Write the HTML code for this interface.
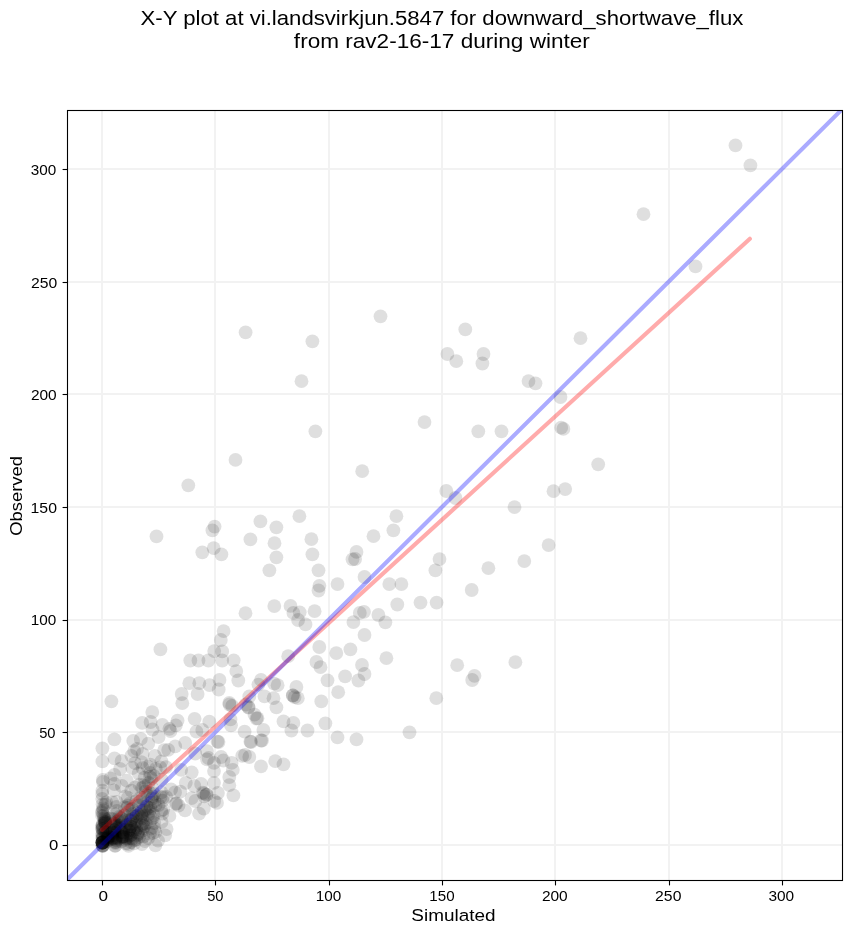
<!DOCTYPE html><html><head><meta charset="utf-8"><style>html,body{margin:0;padding:0;background:#fff;}svg{display:block;will-change:transform;}text{font-family:"Liberation Sans", sans-serif;fill:#000;}</style></head><body>
<svg width="851" height="934" viewBox="0 0 851 934">
<rect x="0" y="0" width="851" height="934" fill="#fff"/>
<text transform="translate(441.93,25.00) scale(1.1305,1)" font-size="19.60" text-anchor="middle">X-Y plot at vi.landsvirkjun.5847 for downward_shortwave_flux</text>
<text transform="translate(441.85,47.50) scale(1.1524,1)" font-size="19.60" text-anchor="middle">from rav2-16-17 during winter</text>
<text transform="translate(103.20,900.70) scale(1.2231,1)" font-size="14.00" text-anchor="middle">0</text>
<text transform="translate(215.35,900.70) scale(1.0497,1)" font-size="14.00" text-anchor="middle">50</text>
<text transform="translate(328.53,900.70) scale(1.0931,1)" font-size="14.00" text-anchor="middle">100</text>
<text transform="translate(441.95,900.70) scale(1.0817,1)" font-size="14.00" text-anchor="middle">150</text>
<text transform="translate(554.80,900.70) scale(1.1060,1)" font-size="14.00" text-anchor="middle">200</text>
<text transform="translate(668.25,900.70) scale(1.1258,1)" font-size="14.00" text-anchor="middle">250</text>
<text transform="translate(781.25,900.70) scale(1.1028,1)" font-size="14.00" text-anchor="middle">300</text>
<text transform="translate(53.65,849.80) scale(1.1924,1)" font-size="14.00" text-anchor="middle">0</text>
<text transform="translate(47.35,737.80) scale(1.0497,1)" font-size="14.00" text-anchor="middle">50</text>
<text transform="translate(43.52,624.80) scale(1.0931,1)" font-size="14.00" text-anchor="middle">100</text>
<text transform="translate(43.77,513.20) scale(1.1297,1)" font-size="14.00" text-anchor="middle">150</text>
<text transform="translate(43.80,399.80) scale(1.1060,1)" font-size="14.00" text-anchor="middle">200</text>
<text transform="translate(44.10,287.80) scale(1.1233,1)" font-size="14.00" text-anchor="middle">250</text>
<text transform="translate(43.40,174.80) scale(1.0909,1)" font-size="14.00" text-anchor="middle">300</text>
<text transform="translate(453.45,920.70) scale(1.1211,1)" font-size="16.90" text-anchor="middle">Simulated</text>
<text transform="translate(22.20,495.90) rotate(-90) scale(1.0903,1)" font-size="16.90" text-anchor="middle">Observed</text>
<defs><clipPath id="ax"><rect x="67.5" y="110.5" width="775" height="770"/></clipPath></defs>
<g stroke="#f2f2f2" stroke-width="2.00"><line x1="102" y1="110.5" x2="102" y2="880.5"/><line x1="67.5" y1="845" x2="842.5" y2="845"/><line x1="215" y1="110.5" x2="215" y2="880.5"/><line x1="67.5" y1="732" x2="842.5" y2="732"/><line x1="329" y1="110.5" x2="329" y2="880.5"/><line x1="67.5" y1="620" x2="842.5" y2="620"/><line x1="442" y1="110.5" x2="442" y2="880.5"/><line x1="67.5" y1="507" x2="842.5" y2="507"/><line x1="555" y1="110.5" x2="555" y2="880.5"/><line x1="67.5" y1="394" x2="842.5" y2="394"/><line x1="669" y1="110.5" x2="669" y2="880.5"/><line x1="67.5" y1="282" x2="842.5" y2="282"/><line x1="782" y1="110.5" x2="782" y2="880.5"/><line x1="67.5" y1="169" x2="842.5" y2="169"/></g>
<g clip-path="url(#ax)" fill="#000" fill-opacity="0.125">
<circle cx="735.5" cy="145.4" r="6.90"/><circle cx="750.4" cy="165.4" r="6.90"/><circle cx="643.5" cy="214.2" r="6.90"/><circle cx="695.5" cy="266.4" r="6.90"/><circle cx="380.5" cy="316.3" r="6.90"/><circle cx="312.4" cy="341.3" r="6.90"/><circle cx="301.5" cy="381.2" r="6.90"/><circle cx="315.4" cy="431.3" r="6.90"/><circle cx="424.5" cy="422.1" r="6.90"/><circle cx="362.2" cy="471.2" r="6.90"/><circle cx="447.4" cy="354.0" r="6.90"/><circle cx="456.3" cy="361.2" r="6.90"/><circle cx="446.3" cy="491.0" r="6.90"/><circle cx="455.5" cy="498.0" r="6.90"/><circle cx="465.3" cy="329.4" r="6.90"/><circle cx="483.5" cy="354.0" r="6.90"/><circle cx="482.4" cy="363.5" r="6.90"/><circle cx="528.5" cy="381.1" r="6.90"/><circle cx="535.5" cy="383.3" r="6.90"/><circle cx="580.5" cy="338.2" r="6.90"/><circle cx="560.5" cy="397.0" r="6.90"/><circle cx="478.3" cy="431.3" r="6.90"/><circle cx="501.5" cy="431.3" r="6.90"/><circle cx="561.2" cy="427.7" r="6.90"/><circle cx="563.4" cy="428.9" r="6.90"/><circle cx="598.2" cy="464.3" r="6.90"/><circle cx="553.5" cy="491.2" r="6.90"/><circle cx="565.2" cy="489.1" r="6.90"/><circle cx="245.6" cy="332.3" r="6.90"/><circle cx="235.5" cy="459.9" r="6.90"/><circle cx="188.3" cy="485.3" r="6.90"/><circle cx="514.5" cy="507.1" r="6.90"/><circle cx="548.6" cy="545.1" r="6.90"/><circle cx="524.3" cy="561.1" r="6.90"/><circle cx="488.4" cy="568.2" r="6.90"/><circle cx="471.7" cy="590.0" r="6.90"/><circle cx="515.4" cy="662.2" r="6.90"/><circle cx="474.5" cy="675.8" r="6.90"/><circle cx="472.2" cy="680.0" r="6.90"/><circle cx="299.4" cy="516.2" r="6.90"/><circle cx="276.4" cy="527.3" r="6.90"/><circle cx="274.5" cy="543.2" r="6.90"/><circle cx="276.4" cy="557.3" r="6.90"/><circle cx="269.4" cy="570.3" r="6.90"/><circle cx="311.4" cy="539.2" r="6.90"/><circle cx="312.4" cy="554.3" r="6.90"/><circle cx="318.5" cy="570.3" r="6.90"/><circle cx="319.4" cy="585.8" r="6.90"/><circle cx="318.5" cy="590.5" r="6.90"/><circle cx="356.5" cy="551.9" r="6.90"/><circle cx="352.5" cy="559.3" r="6.90"/><circle cx="355.1" cy="559.0" r="6.90"/><circle cx="337.5" cy="584.1" r="6.90"/><circle cx="364.5" cy="577.0" r="6.90"/><circle cx="396.4" cy="516.2" r="6.90"/><circle cx="393.4" cy="530.3" r="6.90"/><circle cx="373.5" cy="536.2" r="6.90"/><circle cx="439.5" cy="559.1" r="6.90"/><circle cx="435.4" cy="570.3" r="6.90"/><circle cx="389.3" cy="584.1" r="6.90"/><circle cx="401.4" cy="584.1" r="6.90"/><circle cx="274.3" cy="606.1" r="6.90"/><circle cx="290.5" cy="605.9" r="6.90"/><circle cx="293.4" cy="612.9" r="6.90"/><circle cx="299.7" cy="612.3" r="6.90"/><circle cx="298.1" cy="620.0" r="6.90"/><circle cx="305.5" cy="624.4" r="6.90"/><circle cx="314.6" cy="611.2" r="6.90"/><circle cx="353.4" cy="622.1" r="6.90"/><circle cx="359.8" cy="612.9" r="6.90"/><circle cx="364.0" cy="611.8" r="6.90"/><circle cx="364.5" cy="635.0" r="6.90"/><circle cx="319.3" cy="647.0" r="6.90"/><circle cx="336.3" cy="653.1" r="6.90"/><circle cx="350.4" cy="649.4" r="6.90"/><circle cx="288.2" cy="656.2" r="6.90"/><circle cx="316.4" cy="662.0" r="6.90"/><circle cx="320.5" cy="667.2" r="6.90"/><circle cx="362.0" cy="665.0" r="6.90"/><circle cx="364.5" cy="674.0" r="6.90"/><circle cx="345.1" cy="676.4" r="6.90"/><circle cx="358.4" cy="680.5" r="6.90"/><circle cx="327.5" cy="680.3" r="6.90"/><circle cx="296.4" cy="687.0" r="6.90"/><circle cx="274.1" cy="683.7" r="6.90"/><circle cx="277.6" cy="685.2" r="6.90"/><circle cx="338.2" cy="692.2" r="6.90"/><circle cx="397.3" cy="604.5" r="6.90"/><circle cx="420.5" cy="602.6" r="6.90"/><circle cx="436.6" cy="602.6" r="6.90"/><circle cx="378.4" cy="615.0" r="6.90"/><circle cx="385.4" cy="622.3" r="6.90"/><circle cx="386.4" cy="658.2" r="6.90"/><circle cx="457.2" cy="665.2" r="6.90"/><circle cx="436.3" cy="698.2" r="6.90"/><circle cx="409.5" cy="732.3" r="6.90"/><circle cx="292.9" cy="695.3" r="6.90"/><circle cx="294.6" cy="697.1" r="6.90"/><circle cx="297.8" cy="698.2" r="6.90"/><circle cx="273.5" cy="698.2" r="6.90"/><circle cx="276.4" cy="707.4" r="6.90"/><circle cx="321.3" cy="701.4" r="6.90"/><circle cx="283.5" cy="721.4" r="6.90"/><circle cx="293.4" cy="722.9" r="6.90"/><circle cx="291.4" cy="730.5" r="6.90"/><circle cx="307.5" cy="730.5" r="6.90"/><circle cx="325.4" cy="723.3" r="6.90"/><circle cx="337.5" cy="737.4" r="6.90"/><circle cx="356.5" cy="739.4" r="6.90"/><circle cx="275.2" cy="761.1" r="6.90"/><circle cx="283.5" cy="764.3" r="6.90"/><circle cx="214.6" cy="526.6" r="6.90"/><circle cx="212.4" cy="530.4" r="6.90"/><circle cx="260.4" cy="521.4" r="6.90"/><circle cx="250.4" cy="539.4" r="6.90"/><circle cx="202.3" cy="552.3" r="6.90"/><circle cx="213.7" cy="548.2" r="6.90"/><circle cx="221.4" cy="554.4" r="6.90"/><circle cx="156.5" cy="536.4" r="6.90"/><circle cx="245.5" cy="613.2" r="6.90"/><circle cx="223.6" cy="631.1" r="6.90"/><circle cx="220.8" cy="640.0" r="6.90"/><circle cx="214.2" cy="651.1" r="6.90"/><circle cx="222.2" cy="651.4" r="6.90"/><circle cx="190.3" cy="660.5" r="6.90"/><circle cx="198.5" cy="660.5" r="6.90"/><circle cx="208.4" cy="660.5" r="6.90"/><circle cx="222.2" cy="660.5" r="6.90"/><circle cx="233.7" cy="660.3" r="6.90"/><circle cx="236.3" cy="671.1" r="6.90"/><circle cx="238.3" cy="680.5" r="6.90"/><circle cx="189.3" cy="683.2" r="6.90"/><circle cx="199.3" cy="683.2" r="6.90"/><circle cx="209.5" cy="685.2" r="6.90"/><circle cx="219.5" cy="679.9" r="6.90"/><circle cx="218.7" cy="689.5" r="6.90"/><circle cx="197.6" cy="694.0" r="6.90"/><circle cx="181.7" cy="694.0" r="6.90"/><circle cx="261.0" cy="679.9" r="6.90"/><circle cx="258.4" cy="684.6" r="6.90"/><circle cx="249.3" cy="696.4" r="6.90"/><circle cx="264.5" cy="696.4" r="6.90"/><circle cx="160.4" cy="649.4" r="6.90"/><circle cx="182.3" cy="703.2" r="6.90"/><circle cx="229.3" cy="702.9" r="6.90"/><circle cx="232.2" cy="705.9" r="6.90"/><circle cx="245.8" cy="704.5" r="6.90"/><circle cx="248.5" cy="707.5" r="6.90"/><circle cx="254.5" cy="714.7" r="6.90"/><circle cx="257.5" cy="718.2" r="6.90"/><circle cx="194.6" cy="718.8" r="6.90"/><circle cx="177.6" cy="720.6" r="6.90"/><circle cx="175.8" cy="725.3" r="6.90"/><circle cx="169.4" cy="728.8" r="6.90"/><circle cx="209.3" cy="721.7" r="6.90"/><circle cx="202.3" cy="730.0" r="6.90"/><circle cx="196.4" cy="731.7" r="6.90"/><circle cx="231.0" cy="725.3" r="6.90"/><circle cx="230.5" cy="719.4" r="6.90"/><circle cx="244.6" cy="731.7" r="6.90"/><circle cx="263.4" cy="730.0" r="6.90"/><circle cx="217.5" cy="741.7" r="6.90"/><circle cx="185.2" cy="742.9" r="6.90"/><circle cx="175.2" cy="746.4" r="6.90"/><circle cx="168.2" cy="749.9" r="6.90"/><circle cx="250.4" cy="741.7" r="6.90"/><circle cx="261.0" cy="740.5" r="6.90"/><circle cx="207.0" cy="751.1" r="6.90"/><circle cx="195.2" cy="753.5" r="6.90"/><circle cx="242.2" cy="755.8" r="6.90"/><circle cx="249.3" cy="757.0" r="6.90"/><circle cx="261.0" cy="766.4" r="6.90"/><circle cx="207.0" cy="759.3" r="6.90"/><circle cx="214.0" cy="762.9" r="6.90"/><circle cx="221.1" cy="757.0" r="6.90"/><circle cx="223.4" cy="760.5" r="6.90"/><circle cx="231.6" cy="762.9" r="6.90"/><circle cx="232.8" cy="769.9" r="6.90"/><circle cx="214.0" cy="771.1" r="6.90"/><circle cx="191.7" cy="772.3" r="6.90"/><circle cx="181.1" cy="769.9" r="6.90"/><circle cx="229.3" cy="777.0" r="6.90"/><circle cx="185.8" cy="782.8" r="6.90"/><circle cx="201.1" cy="784.0" r="6.90"/><circle cx="214.0" cy="782.8" r="6.90"/><circle cx="229.3" cy="785.2" r="6.90"/><circle cx="111.4" cy="701.3" r="6.90"/><circle cx="152.3" cy="712.1" r="6.90"/><circle cx="142.2" cy="722.9" r="6.90"/><circle cx="150.6" cy="722.0" r="6.90"/><circle cx="152.5" cy="729.5" r="6.90"/><circle cx="162.4" cy="725.0" r="6.90"/><circle cx="114.4" cy="739.3" r="6.90"/><circle cx="102.4" cy="748.3" r="6.90"/><circle cx="102.4" cy="761.4" r="6.90"/><circle cx="133.2" cy="740.8" r="6.90"/><circle cx="140.8" cy="738.9" r="6.90"/><circle cx="148.3" cy="743.6" r="6.90"/><circle cx="158.6" cy="737.0" r="6.90"/><circle cx="134.2" cy="751.1" r="6.90"/><circle cx="131.4" cy="755.8" r="6.90"/><circle cx="137.0" cy="749.0" r="6.90"/><circle cx="142.6" cy="753.9" r="6.90"/><circle cx="154.8" cy="755.8" r="6.90"/><circle cx="164.2" cy="750.2" r="6.90"/><circle cx="161.4" cy="761.4" r="6.90"/><circle cx="120.1" cy="769.0" r="6.90"/><circle cx="132.3" cy="768.0" r="6.90"/><circle cx="142.6" cy="768.0" r="6.90"/><circle cx="155.8" cy="769.0" r="6.90"/><circle cx="233.4" cy="795.4" r="6.90"/><circle cx="217.9" cy="793.0" r="6.90"/><circle cx="202.9" cy="792.6" r="6.90"/><circle cx="206.6" cy="794.4" r="6.90"/><circle cx="204.5" cy="796.3" r="6.90"/><circle cx="194.4" cy="786.0" r="6.90"/><circle cx="180.3" cy="791.6" r="6.90"/><circle cx="175.0" cy="792.5" r="6.90"/><circle cx="191.6" cy="798.2" r="6.90"/><circle cx="195.4" cy="801.0" r="6.90"/><circle cx="175.6" cy="803.8" r="6.90"/><circle cx="185.0" cy="810.4" r="6.90"/><circle cx="199.1" cy="813.7" r="6.90"/><circle cx="203.8" cy="808.5" r="6.90"/><circle cx="214.2" cy="801.0" r="6.90"/><circle cx="217.0" cy="802.9" r="6.90"/><circle cx="204.0" cy="793.5" r="6.90"/><circle cx="206.5" cy="795.0" r="6.90"/><circle cx="176.5" cy="803.5" r="6.90"/><circle cx="178.5" cy="805.5" r="6.90"/><circle cx="229.5" cy="704.5" r="6.90"/><circle cx="248.5" cy="707.0" r="6.90"/><circle cx="256.5" cy="718.5" r="6.90"/><circle cx="218.5" cy="742.0" r="6.90"/><circle cx="251.0" cy="742.0" r="6.90"/><circle cx="208.5" cy="758.0" r="6.90"/><circle cx="245.0" cy="755.0" r="6.90"/><circle cx="170.5" cy="731.0" r="6.90"/><circle cx="292.8" cy="695.5" r="6.90"/><circle cx="262.0" cy="740.5" r="6.90"/><circle cx="103.0" cy="782.0" r="6.90"/><circle cx="114.5" cy="784.0" r="6.90"/><circle cx="102.5" cy="842.5" r="6.90"/><circle cx="102.5" cy="842.5" r="6.90"/><circle cx="102.5" cy="842.5" r="6.90"/><circle cx="102.5" cy="842.5" r="6.90"/><circle cx="102.5" cy="842.5" r="6.90"/><circle cx="102.5" cy="842.5" r="6.90"/><circle cx="102.5" cy="842.5" r="6.90"/><circle cx="102.5" cy="842.5" r="6.90"/><circle cx="102.5" cy="842.5" r="6.90"/><circle cx="102.5" cy="842.5" r="6.90"/><circle cx="102.5" cy="842.5" r="6.90"/><circle cx="102.5" cy="842.5" r="6.90"/><circle cx="145.5" cy="786.0" r="6.90"/><circle cx="142.1" cy="787.9" r="6.90"/><circle cx="150.3" cy="793.4" r="6.90"/><circle cx="152.8" cy="796.4" r="6.90"/><circle cx="160.5" cy="797.0" r="6.90"/><circle cx="151.8" cy="798.5" r="6.90"/><circle cx="136.3" cy="800.8" r="6.90"/><circle cx="140.3" cy="801.5" r="6.90"/><circle cx="152.1" cy="802.4" r="6.90"/><circle cx="105.2" cy="804.3" r="6.90"/><circle cx="142.8" cy="804.3" r="6.90"/><circle cx="158.5" cy="805.0" r="6.90"/><circle cx="128.0" cy="805.7" r="6.90"/><circle cx="150.5" cy="806.3" r="6.90"/><circle cx="127.2" cy="808.0" r="6.90"/><circle cx="150.5" cy="808.1" r="6.90"/><circle cx="129.6" cy="809.8" r="6.90"/><circle cx="141.6" cy="810.9" r="6.90"/><circle cx="144.0" cy="810.5" r="6.90"/><circle cx="149.5" cy="811.1" r="6.90"/><circle cx="132.6" cy="813.9" r="6.90"/><circle cx="136.6" cy="813.3" r="6.90"/><circle cx="138.8" cy="814.5" r="6.90"/><circle cx="141.5" cy="814.8" r="6.90"/><circle cx="102.1" cy="815.8" r="6.90"/><circle cx="149.7" cy="815.8" r="6.90"/><circle cx="119.2" cy="816.8" r="6.90"/><circle cx="136.2" cy="816.1" r="6.90"/><circle cx="103.9" cy="817.9" r="6.90"/><circle cx="120.9" cy="817.5" r="6.90"/><circle cx="140.3" cy="817.0" r="6.90"/><circle cx="142.6" cy="817.7" r="6.90"/><circle cx="104.8" cy="818.3" r="6.90"/><circle cx="111.2" cy="818.6" r="6.90"/><circle cx="104.8" cy="820.0" r="6.90"/><circle cx="113.2" cy="819.5" r="6.90"/><circle cx="119.9" cy="819.4" r="6.90"/><circle cx="121.6" cy="819.0" r="6.90"/><circle cx="128.7" cy="819.9" r="6.90"/><circle cx="121.8" cy="820.9" r="6.90"/><circle cx="130.7" cy="820.2" r="6.90"/><circle cx="150.8" cy="820.2" r="6.90"/><circle cx="104.8" cy="821.1" r="6.90"/><circle cx="130.8" cy="821.2" r="6.90"/><circle cx="136.4" cy="821.3" r="6.90"/><circle cx="104.7" cy="822.2" r="6.90"/><circle cx="105.4" cy="822.0" r="6.90"/><circle cx="105.3" cy="822.4" r="6.90"/><circle cx="105.1" cy="823.6" r="6.90"/><circle cx="105.4" cy="823.7" r="6.90"/><circle cx="113.7" cy="823.4" r="6.90"/><circle cx="141.9" cy="823.6" r="6.90"/><circle cx="145.8" cy="823.3" r="6.90"/><circle cx="115.5" cy="824.2" r="6.90"/><circle cx="130.0" cy="824.2" r="6.90"/><circle cx="130.3" cy="824.1" r="6.90"/><circle cx="115.3" cy="825.8" r="6.90"/><circle cx="116.7" cy="825.1" r="6.90"/><circle cx="141.4" cy="825.4" r="6.90"/><circle cx="116.7" cy="826.5" r="6.90"/><circle cx="130.6" cy="826.8" r="6.90"/><circle cx="130.7" cy="826.4" r="6.90"/><circle cx="131.4" cy="826.4" r="6.90"/><circle cx="144.1" cy="826.2" r="6.90"/><circle cx="102.3" cy="827.3" r="6.90"/><circle cx="120.3" cy="827.6" r="6.90"/><circle cx="141.0" cy="827.8" r="6.90"/><circle cx="102.8" cy="828.8" r="6.90"/><circle cx="120.6" cy="828.9" r="6.90"/><circle cx="129.7" cy="828.5" r="6.90"/><circle cx="151.1" cy="828.5" r="6.90"/><circle cx="102.2" cy="829.1" r="6.90"/><circle cx="114.5" cy="829.8" r="6.90"/><circle cx="103.3" cy="830.8" r="6.90"/><circle cx="114.5" cy="830.1" r="6.90"/><circle cx="115.0" cy="830.4" r="6.90"/><circle cx="121.3" cy="830.8" r="6.90"/><circle cx="129.1" cy="830.7" r="6.90"/><circle cx="129.2" cy="830.4" r="6.90"/><circle cx="105.2" cy="831.8" r="6.90"/><circle cx="105.4" cy="832.0" r="6.90"/><circle cx="114.6" cy="831.7" r="6.90"/><circle cx="112.5" cy="832.3" r="6.90"/><circle cx="112.4" cy="832.9" r="6.90"/><circle cx="114.2" cy="833.0" r="6.90"/><circle cx="115.8" cy="832.4" r="6.90"/><circle cx="121.6" cy="832.4" r="6.90"/><circle cx="123.4" cy="832.5" r="6.90"/><circle cx="123.0" cy="832.5" r="6.90"/><circle cx="130.0" cy="832.3" r="6.90"/><circle cx="137.7" cy="832.4" r="6.90"/><circle cx="138.2" cy="833.9" r="6.90"/><circle cx="107.0" cy="834.3" r="6.90"/><circle cx="123.0" cy="834.3" r="6.90"/><circle cx="131.8" cy="834.6" r="6.90"/><circle cx="107.8" cy="835.6" r="6.90"/><circle cx="112.4" cy="835.8" r="6.90"/><circle cx="112.0" cy="835.4" r="6.90"/><circle cx="130.4" cy="835.5" r="6.90"/><circle cx="137.1" cy="835.2" r="6.90"/><circle cx="108.6" cy="836.4" r="6.90"/><circle cx="108.8" cy="836.6" r="6.90"/><circle cx="122.9" cy="836.7" r="6.90"/><circle cx="122.6" cy="836.3" r="6.90"/><circle cx="123.8" cy="836.3" r="6.90"/><circle cx="139.1" cy="837.0" r="6.90"/><circle cx="112.5" cy="837.8" r="6.90"/><circle cx="112.5" cy="837.6" r="6.90"/><circle cx="122.0" cy="837.2" r="6.90"/><circle cx="122.7" cy="837.6" r="6.90"/><circle cx="130.2" cy="838.0" r="6.90"/><circle cx="112.2" cy="838.5" r="6.90"/><circle cx="132.1" cy="838.7" r="6.90"/><circle cx="115.3" cy="842.1" r="6.90"/><circle cx="113.0" cy="839.2" r="6.90"/><circle cx="143.2" cy="836.5" r="6.90"/><circle cx="107.5" cy="838.0" r="6.90"/><circle cx="153.0" cy="832.8" r="6.90"/><circle cx="115.7" cy="841.8" r="6.90"/><circle cx="125.9" cy="838.0" r="6.90"/><circle cx="134.1" cy="840.4" r="6.90"/><circle cx="150.1" cy="776.6" r="6.90"/><circle cx="121.3" cy="841.3" r="6.90"/><circle cx="103.3" cy="810.1" r="6.90"/><circle cx="162.7" cy="800.7" r="6.90"/><circle cx="153.6" cy="815.0" r="6.90"/><circle cx="108.4" cy="837.7" r="6.90"/><circle cx="134.2" cy="827.4" r="6.90"/><circle cx="116.0" cy="838.1" r="6.90"/><circle cx="106.2" cy="802.4" r="6.90"/><circle cx="125.5" cy="839.9" r="6.90"/><circle cx="102.3" cy="829.0" r="6.90"/><circle cx="143.8" cy="785.1" r="6.90"/><circle cx="143.1" cy="828.0" r="6.90"/><circle cx="115.8" cy="840.3" r="6.90"/><circle cx="125.1" cy="820.4" r="6.90"/><circle cx="129.3" cy="803.9" r="6.90"/><circle cx="146.4" cy="806.1" r="6.90"/><circle cx="104.9" cy="838.6" r="6.90"/><circle cx="131.1" cy="842.1" r="6.90"/><circle cx="115.5" cy="843.1" r="6.90"/><circle cx="118.6" cy="827.6" r="6.90"/><circle cx="154.0" cy="793.8" r="6.90"/><circle cx="116.8" cy="810.9" r="6.90"/><circle cx="102.7" cy="835.7" r="6.90"/><circle cx="137.2" cy="816.0" r="6.90"/><circle cx="150.1" cy="773.0" r="6.90"/><circle cx="103.6" cy="815.9" r="6.90"/><circle cx="154.3" cy="827.8" r="6.90"/><circle cx="107.1" cy="832.2" r="6.90"/><circle cx="161.3" cy="810.6" r="6.90"/><circle cx="126.6" cy="838.5" r="6.90"/><circle cx="115.4" cy="839.6" r="6.90"/><circle cx="136.0" cy="839.5" r="6.90"/><circle cx="107.8" cy="840.1" r="6.90"/><circle cx="140.4" cy="797.6" r="6.90"/><circle cx="102.6" cy="804.3" r="6.90"/><circle cx="133.4" cy="829.9" r="6.90"/><circle cx="102.6" cy="833.6" r="6.90"/><circle cx="148.1" cy="815.1" r="6.90"/><circle cx="148.2" cy="838.1" r="6.90"/><circle cx="118.0" cy="821.0" r="6.90"/><circle cx="107.4" cy="841.1" r="6.90"/><circle cx="148.6" cy="783.0" r="6.90"/><circle cx="163.1" cy="797.1" r="6.90"/><circle cx="131.3" cy="790.6" r="6.90"/><circle cx="125.8" cy="843.3" r="6.90"/><circle cx="102.3" cy="825.8" r="6.90"/><circle cx="124.7" cy="807.1" r="6.90"/><circle cx="102.8" cy="845.8" r="6.90"/><circle cx="116.2" cy="837.6" r="6.90"/><circle cx="126.2" cy="825.2" r="6.90"/><circle cx="147.5" cy="766.5" r="6.90"/><circle cx="102.5" cy="838.5" r="6.90"/><circle cx="143.2" cy="823.8" r="6.90"/><circle cx="102.3" cy="793.9" r="6.90"/><circle cx="155.5" cy="805.3" r="6.90"/><circle cx="102.2" cy="811.5" r="6.90"/><circle cx="133.4" cy="816.6" r="6.90"/><circle cx="161.5" cy="822.0" r="6.90"/><circle cx="110.8" cy="822.1" r="6.90"/><circle cx="102.8" cy="845.8" r="6.90"/><circle cx="147.9" cy="795.7" r="6.90"/><circle cx="112.2" cy="802.4" r="6.90"/><circle cx="115.4" cy="845.6" r="6.90"/><circle cx="139.4" cy="784.7" r="6.90"/><circle cx="134.2" cy="843.4" r="6.90"/><circle cx="138.5" cy="805.4" r="6.90"/><circle cx="102.1" cy="835.0" r="6.90"/><circle cx="153.7" cy="775.8" r="6.90"/><circle cx="125.4" cy="836.9" r="6.90"/><circle cx="127.8" cy="798.0" r="6.90"/><circle cx="136.2" cy="829.5" r="6.90"/><circle cx="117.4" cy="828.6" r="6.90"/><circle cx="141.3" cy="762.1" r="6.90"/><circle cx="102.5" cy="845.6" r="6.90"/><circle cx="155.4" cy="832.0" r="6.90"/><circle cx="161.4" cy="792.3" r="6.90"/><circle cx="115.8" cy="814.5" r="6.90"/><circle cx="163.3" cy="809.3" r="6.90"/><circle cx="144.9" cy="841.0" r="6.90"/><circle cx="102.6" cy="838.3" r="6.90"/><circle cx="152.7" cy="818.2" r="6.90"/><circle cx="160.3" cy="767.5" r="6.90"/><circle cx="110.4" cy="778.4" r="6.90"/><circle cx="103.0" cy="808.2" r="6.90"/><circle cx="102.6" cy="824.0" r="6.90"/><circle cx="114.1" cy="838.2" r="6.90"/><circle cx="148.0" cy="807.7" r="6.90"/><circle cx="121.9" cy="786.0" r="6.90"/><circle cx="125.7" cy="829.4" r="6.90"/><circle cx="102.4" cy="790.7" r="6.90"/><circle cx="142.3" cy="830.5" r="6.90"/><circle cx="124.3" cy="815.4" r="6.90"/><circle cx="128.5" cy="844.2" r="6.90"/><circle cx="152.3" cy="788.4" r="6.90"/><circle cx="116.5" cy="801.8" r="6.90"/><circle cx="144.6" cy="777.6" r="6.90"/><circle cx="102.9" cy="845.2" r="6.90"/><circle cx="135.1" cy="787.4" r="6.90"/><circle cx="158.1" cy="840.6" r="6.90"/><circle cx="166.6" cy="829.1" r="6.90"/><circle cx="141.7" cy="818.6" r="6.90"/><circle cx="169.4" cy="815.9" r="6.90"/><circle cx="107.9" cy="832.2" r="6.90"/><circle cx="166.2" cy="796.9" r="6.90"/><circle cx="132.2" cy="808.8" r="6.90"/><circle cx="109.3" cy="818.4" r="6.90"/><circle cx="121.6" cy="760.9" r="6.90"/><circle cx="135.0" cy="763.2" r="6.90"/><circle cx="118.7" cy="838.4" r="6.90"/><circle cx="142.3" cy="798.0" r="6.90"/><circle cx="150.3" cy="764.7" r="6.90"/><circle cx="103.0" cy="837.8" r="6.90"/><circle cx="161.7" cy="779.7" r="6.90"/><circle cx="113.8" cy="790.3" r="6.90"/><circle cx="154.6" cy="801.8" r="6.90"/><circle cx="114.9" cy="845.9" r="6.90"/><circle cx="141.9" cy="844.1" r="6.90"/><circle cx="125.4" cy="796.5" r="6.90"/><circle cx="118.9" cy="825.4" r="6.90"/><circle cx="154.3" cy="823.0" r="6.90"/><circle cx="102.3" cy="798.8" r="6.90"/><circle cx="166.0" cy="767.2" r="6.90"/><circle cx="102.3" cy="845.5" r="6.90"/><circle cx="114.4" cy="774.9" r="6.90"/><circle cx="102.2" cy="812.6" r="6.90"/><circle cx="102.8" cy="779.9" r="6.90"/><circle cx="134.9" cy="832.1" r="6.90"/><circle cx="126.8" cy="780.7" r="6.90"/><circle cx="116.4" cy="807.0" r="6.90"/><circle cx="132.2" cy="818.7" r="6.90"/><circle cx="165.1" cy="835.3" r="6.90"/><circle cx="162.3" cy="813.7" r="6.90"/><circle cx="151.4" cy="778.1" r="6.90"/><circle cx="155.4" cy="845.3" r="6.90"/><circle cx="138.7" cy="773.3" r="6.90"/><circle cx="106.7" cy="839.5" r="6.90"/><circle cx="149.9" cy="833.7" r="6.90"/><circle cx="145.4" cy="810.5" r="6.90"/><circle cx="128.5" cy="845.9" r="6.90"/><circle cx="171.1" cy="789.4" r="6.90"/><circle cx="114.5" cy="758.4" r="6.90"/><circle cx="145.6" cy="791.5" r="6.90"/><circle cx="102.4" cy="825.7" r="6.90"/>
</g>
<g clip-path="url(#ax)" stroke-width="4.17" fill="none" stroke-opacity="0.330" stroke-linecap="round">
<line x1="102.10" y1="829.90" x2="749.90" y2="238.80" stroke="#ff0000"/>
<line x1="56.17" y1="890.57" x2="872.17" y2="79.37" stroke="#0000ff"/>
</g>
<rect x="67.5" y="110.5" width="775" height="770" fill="none" stroke="#000" stroke-width="1.1"/>
<g stroke="#000" stroke-width="1.1"><line x1="102.5" y1="880.5" x2="102.5" y2="885.4"/><line x1="67.5" y1="845.5" x2="62.6" y2="845.5"/><line x1="215.5" y1="880.5" x2="215.5" y2="885.4"/><line x1="67.5" y1="732.5" x2="62.6" y2="732.5"/><line x1="329.5" y1="880.5" x2="329.5" y2="885.4"/><line x1="67.5" y1="620.5" x2="62.6" y2="620.5"/><line x1="442.5" y1="880.5" x2="442.5" y2="885.4"/><line x1="67.5" y1="507.5" x2="62.6" y2="507.5"/><line x1="555.5" y1="880.5" x2="555.5" y2="885.4"/><line x1="67.5" y1="394.5" x2="62.6" y2="394.5"/><line x1="669.5" y1="880.5" x2="669.5" y2="885.4"/><line x1="67.5" y1="282.5" x2="62.6" y2="282.5"/><line x1="782.5" y1="880.5" x2="782.5" y2="885.4"/><line x1="67.5" y1="169.5" x2="62.6" y2="169.5"/></g>
</svg></body></html>
